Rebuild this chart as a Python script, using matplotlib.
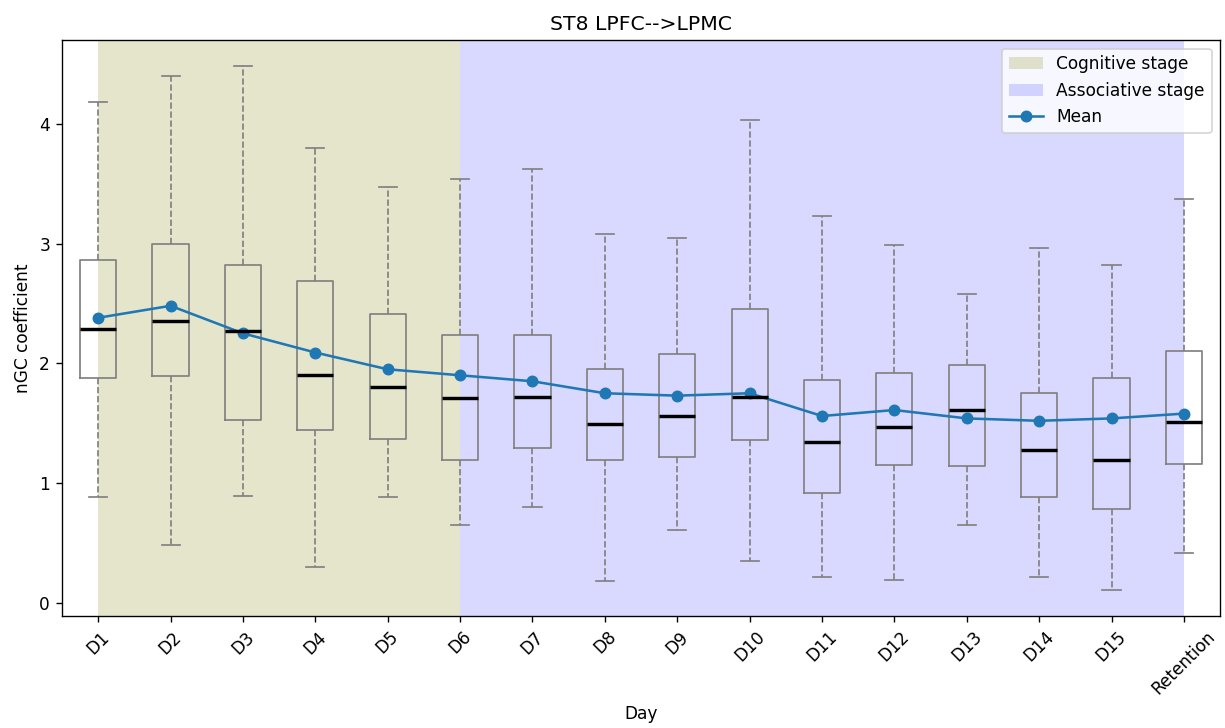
import numpy as np
import matplotlib.pyplot as plt

# values
days = ["D1", "D2", "D3", "D4", "D5", "D6", "D7", "D8", "D9", "D10",
        "D11", "D12", "D13", "D14", "D15", "Retention"]
whislo = [0.88, 0.48, 0.89, 0.30, 0.88, 0.65, 0.80, 0.18, 0.61, 0.35,
          0.22, 0.19, 0.65, 0.22, 0.11, 0.42]
q1 = [1.88, 1.89, 1.53, 1.44, 1.37, 1.19, 1.29, 1.19, 1.22, 1.36,
      0.92, 1.15, 1.14, 0.88, 0.78, 1.16]
med = [2.29, 2.35, 2.27, 1.90, 1.80, 1.71, 1.72, 1.49, 1.56, 1.72,
       1.34, 1.47, 1.61, 1.28, 1.19, 1.51]
q3 = [2.86, 3.00, 2.82, 2.69, 2.41, 2.24, 2.24, 1.95, 2.08, 2.45,
      1.86, 1.92, 1.99, 1.75, 1.88, 2.10]
whishi = [4.18, 4.40, 4.48, 3.80, 3.47, 3.54, 3.62, 3.08, 3.05, 4.03,
          3.23, 2.99, 2.58, 2.96, 2.82, 3.37]
means = [2.38, 2.48, 2.25, 2.09, 1.95, 1.90, 1.85, 1.75, 1.73, 1.75,
         1.56, 1.61, 1.54, 1.52, 1.54, 1.58]

stats = []
for i in range(len(days)):
    stats.append({"label": days[i], "whislo": whislo[i], "q1": q1[i], "med": med[i],
                  "q3": q3[i], "whishi": whishi[i], "fliers": []})

dpi = 122.5
fig = plt.figure(figsize=(1225 / dpi, 728 / dpi), dpi=dpi)
ax = fig.add_axes([0.0506, 0.154, 0.9454, 0.791])

ax.axvspan(0, 5, color="olive", alpha=0.2, lw=0, label="Cognitive stage")
ax.axvspan(5, 15, color="blue", alpha=0.15, lw=0, label="Associative stage")

pos = np.arange(len(days))
ax.bxp(stats, positions=pos, widths=0.5, showfliers=False,
       boxprops=dict(color="gray", linewidth=1),
       whiskerprops=dict(color="gray", linestyle="--", linewidth=1),
       capprops=dict(color="gray", linewidth=1),
       medianprops=dict(color="black", linewidth=2))

ax.plot(pos, means, marker="o", color="C0", label="Mean")

ax.set_xlim(-0.5, 15.5)
ax.set_xticks(pos)
ax.set_xticklabels(days, rotation=45)
ax.set_title("ST8 LPFC-->LPMC")
ax.set_xlabel("Day")
ax.set_ylabel("nGC coefficient")
ax.legend(loc="upper right")

fig.savefig("out.png", dpi=dpi)
